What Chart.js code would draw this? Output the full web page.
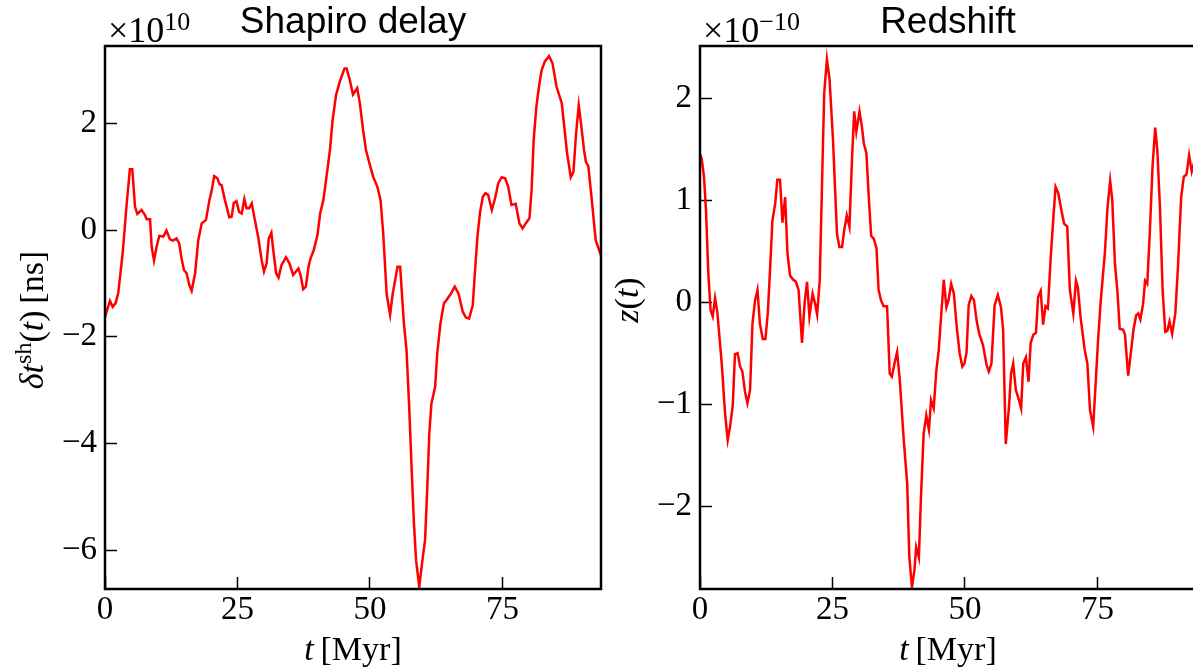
<!DOCTYPE html>
<html>
<head>
<meta charset="utf-8">
<script src="https://cdn.jsdelivr.net/npm/chart.js@4/dist/chart.umd.min.js"></script>
<style>
  html, body { margin: 0; padding: 0; background: #fff; }
  body { width: 1193px; height: 670px; overflow: hidden; position: relative; }
  .panel { position: absolute; top: 0; width: 610px; height: 670px; }
</style>
</head>
<body>
<div class="panel" style="left:0px"><canvas id="c1" width="610" height="670"></canvas></div>
<div class="panel" style="left:595px"><canvas id="c2" width="610" height="670"></canvas></div>
<script>
// ---------------- DATA ----------------
// time axis tick values (Myr)
const xTickValues = [0, 25, 50, 75];
// y tick values
const shapiroYTicks = [-6, -4, -2, 0, 2];
const redshiftYTicks = [-2, -1, 0, 1, 2];

// Shapiro delay, units of 1e10 ns
const shapiroT = [0, 0.94, 1.45, 2.0, 2.5, 3.33, 4.1, 4.7, 5.15, 5.66, 6.1, 6.9, 7.55, 7.86, 8.5, 8.8, 9.25, 9.75, 10.25, 11.0,
  11.6, 12.26, 12.77, 13.5, 14.0, 14.5, 14.9, 15.4, 15.9, 16.35, 17.0, 17.6, 18.25, 19.06, 19.7, 20.1, 20.6, 21.2, 21.6, 22.0,
  22.6, 23.45, 23.9, 24.3, 24.8, 25.3, 25.8, 26.3, 26.7, 27.2, 27.7, 28.1, 28.9, 29.55, 30.0, 30.5, 30.9, 31.4, 31.75, 32.3,
  32.75, 33.3, 34.15, 34.8, 35.5, 36.5, 36.9, 37.4, 37.9, 38.4, 38.8, 39.4, 40.1, 40.6, 41.2, 41.8, 42.45, 42.95, 43.6, 44.3,
  45.2, 45.6, 46.2, 46.8, 47.6, 48.1, 48.7, 49.25, 49.9, 50.6, 51.4, 52.0, 52.5, 53.15, 53.8, 54.3, 55.2, 55.7, 56.4, 56.9,
  57.4, 57.9, 58.3, 58.7, 59.3, 59.9, 60.4, 60.8, 61.2, 61.6, 62.3, 62.7, 63.3, 63.96, 64.45, 65.3, 66.0, 66.7, 67.5, 68.1,
  68.7, 69.4, 69.8, 70.3, 70.8, 71.3, 71.8, 72.3, 73.0, 73.6, 74.2, 74.85, 75.5, 76.1, 76.7, 77.5, 78.2, 78.8, 79.4, 80.1,
  80.5, 80.9, 81.4, 81.9, 82.4, 83.0, 83.8, 84.45, 85.2, 86.2, 86.8, 87.2, 87.9, 88.4, 88.9, 89.4, 89.75, 90.4, 90.75, 91.2,
  91.8, 92.6, 93.6];
const shapiroV = [-1.63, -1.33, -1.44, -1.37, -1.18, -0.44, 0.5, 1.14, 1.14, 0.44, 0.3, 0.375, 0.28, 0.2, 0.2, -0.31, -0.57, -0.31, -0.11, -0.125,
  -0.01, -0.175, -0.2, -0.16, -0.25, -0.56, -0.75, -0.81, -1.03, -1.14, -0.81, -0.19, 0.125, 0.19, 0.56, 0.72, 1.01, 0.97, 0.86, 0.84,
  0.575, 0.24, 0.25, 0.51, 0.54, 0.34, 0.31, 0.58, 0.41, 0.41, 0.5, 0.28, -0.125, -0.56, -0.78, -0.625, -0.16, -0.05, -0.375, -0.81,
  -0.89, -0.66, -0.51, -0.625, -0.84, -0.72, -0.84, -1.11, -1.06, -0.69, -0.53, -0.375, -0.09, 0.31, 0.56, 1.0, 1.5, 2.06, 2.53, 2.78,
  3.03, 3.03, 2.81, 2.54, 2.66, 2.37, 1.875, 1.5, 1.25, 1.0, 0.81, 0.56, -0.06, -1.2, -1.59, -1.19, -0.69, -0.69, -1.75, -2.25,
  -3.31, -4.56, -5.5, -6.19, -6.69, -6.19, -5.81, -4.875, -3.81, -3.25, -2.94, -2.31, -1.75, -1.375, -1.31, -1.19, -1.06, -1.19, -1.53, -1.64,
  -1.66, -1.41, -0.81, -0.1, 0.35, 0.625, 0.69, 0.66, 0.375, 0.59, 0.875, 0.99, 0.97, 0.81, 0.47, 0.49, 0.125, 0.03, 0.125, 0.22,
  0.75, 1.69, 2.31, 2.69, 3.0, 3.16, 3.26, 3.125, 2.69, 2.375, 1.81, 1.44, 0.99, 1.09, 1.81, 2.34, 2.06, 1.5, 1.28, 1.2,
  0.625, -0.19, -0.48];

// Redshift, units of 1e-10
const redshiftT = [0, 0.3, 0.75, 1.13, 1.57, 2.0, 2.4, 2.84, 3.27, 4.1, 4.73, 5.23, 5.67, 6.18, 6.6, 7.1, 7.56, 8.0, 8.5, 8.95,
  9.45, 9.9, 10.4, 10.85, 11.3, 11.85, 12.35, 12.8, 13.2, 13.67, 14.2, 14.6, 15.1, 15.56, 16.07, 16.5, 17.0, 17.6, 18.1, 18.6,
  19.25, 19.75, 20.2, 20.65, 21.25, 21.7, 22.1, 22.6, 23.0, 23.44, 23.95, 24.45, 25.1, 25.5, 25.85, 26.3, 26.8, 27.2, 27.7, 28.2,
  28.7, 29.1, 29.5, 30.1, 30.55, 30.9, 31.4, 31.8, 32.3, 32.8, 33.3, 33.7, 34.15, 34.65, 35.3, 35.8, 36.2, 36.7, 37.2, 37.7,
  38.45, 39.1, 39.5, 40.0, 40.45, 40.8, 41.3, 41.7, 42.2, 42.7, 43.2, 43.6, 44.1, 44.6, 45.05, 45.5, 46.0, 46.5, 46.9, 47.4,
  47.9, 48.5, 49.0, 49.5, 49.9, 50.3, 50.7, 51.2, 51.7, 52.2, 52.7, 53.4, 54.1, 54.5, 55.0, 55.6, 56.2, 56.8, 57.2, 57.7,
  58.3, 58.7, 59.1, 59.6, 60.2, 60.6, 61.0, 61.5, 62.0, 62.4, 62.9, 63.4, 63.8, 64.3, 64.75, 65.2, 65.65, 66.2, 66.7, 67.1,
  67.6, 68.2, 68.7, 69.3, 69.8, 70.45, 70.95, 71.3, 71.8, 72.6, 73.1, 73.6, 74.2, 74.7, 75.1, 75.6, 76.4, 76.9, 77.4, 77.8,
  78.3, 78.8, 79.2, 79.85, 80.2, 80.8, 81.3, 81.8, 82.3, 82.7, 83.1, 83.6, 84.0, 84.4, 84.9, 85.4, 85.9, 86.3, 86.8, 87.3,
  87.8, 88.2, 88.6, 89.1, 89.7, 90.2, 90.8, 91.3, 91.8, 92.3, 92.8, 93.2, 93.6];
const redshiftV = [1.45, 1.41, 1.23, 0.9, 0.28, -0.08, -0.14, 0.04, -0.1, -0.6, -1.09, -1.35, -1.22, -1.01, -0.51, -0.5, -0.63, -0.68, -0.88, -0.99,
  -0.86, -0.21, 0.02, 0.12, -0.21, -0.36, -0.36, -0.1, 0.3, 0.8, 0.97, 1.2, 1.2, 0.78, 1.03, 0.48, 0.26, 0.22, 0.2, 0.12,
  -0.4, 0.0, 0.2, -0.14, 0.085, -0.01, -0.12, 0.22, 1.1, 2.05, 2.38, 2.18, 1.59, 1.1, 0.67, 0.54, 0.54, 0.7, 0.85, 0.74,
  1.42, 1.87, 1.67, 1.87, 1.72, 1.56, 1.46, 1.07, 0.65, 0.62, 0.53, 0.12, 0.02, -0.04, -0.04, -0.7, -0.73, -0.6, -0.49, -0.76,
  -1.35, -1.78, -2.5, -2.79, -2.63, -2.4, -2.5, -1.91, -1.29, -1.11, -1.25, -0.96, -1.04, -0.67, -0.47, -0.14, 0.22, -0.05, 0.02, 0.18,
  0.085, -0.27, -0.5, -0.63, -0.6, -0.49, -0.03, 0.06, 0.02, -0.18, -0.31, -0.42, -0.62, -0.68, -0.6, -0.03, 0.07, -0.05, -0.27, -1.39,
  -1.03, -0.7, -0.6, -0.86, -0.96, -1.04, -0.6, -0.54, -0.78, -0.4, -0.32, -0.3, 0.05, 0.11, -0.22, -0.04, -0.06, 0.45, 0.84, 1.13,
  1.07, 0.9, 0.77, 0.74, 0.12, -0.11, 0.21, 0.15, -0.14, -0.47, -0.6, -1.06, -1.22, -0.76, -0.39, 0.0, 0.48, 0.93, 1.19, 1.0,
  0.38, 0.085, -0.26, -0.27, -0.32, -0.72, -0.5, -0.27, -0.13, -0.11, -0.17, -0.02, 0.21, 0.18, 0.7, 1.33, 1.71, 1.49, 0.93, 0.12,
  -0.29, -0.28, -0.19, -0.31, -0.11, 0.35, 1.03, 1.23, 1.25, 1.44, 1.28, 1.36, 1.3];

// ---------------- RENDERING ----------------
const SERIF = '"Liberation Serif", "DejaVu Serif", serif';
const SANS = '"Liberation Sans", Arial, sans-serif';

function richWidth(ctx, segs) {
  let w = 0;
  for (const s of segs) {
    ctx.font = (s.it ? 'italic ' : '') + s.size + 'px ' + SERIF;
    w += ctx.measureText(s.t).width;
  }
  return w;
}
function drawRich(ctx, segs, x, y, center) {
  if (center) x -= richWidth(ctx, segs) / 2;
  ctx.fillStyle = '#000';
  ctx.textBaseline = 'alphabetic';
  ctx.textAlign = 'left';
  for (const s of segs) {
    ctx.font = (s.it ? 'italic ' : '') + s.size + 'px ' + SERIF;
    ctx.fillText(s.t, x, y + (s.dy || 0));
    x += ctx.measureText(s.t).width;
  }
}

const mathText = {
  id: 'mathText',
  afterDraw(chart, args, o) {
    const {ctx, chartArea: a} = chart;
    ctx.save();
    // frame
    ctx.strokeStyle = '#000';
    ctx.lineWidth = 2.5;
    ctx.strokeRect(a.left, a.top, a.right - a.left, a.bottom - a.top);
    // offset multiplier
    drawRich(ctx, o.offset, a.left + 3, 42, false);
    // x label
    drawRich(ctx, o.xlabel, (a.left + a.right) / 2, 660, true);
    // y label
    ctx.translate(43, o.ylabelY);
    ctx.rotate(-Math.PI / 2);
    drawRich(ctx, o.ylabel, 0, 0, true);
    ctx.restore();
  }
};

const fmt = v => (v < 0 ? '\u2212' + Math.abs(v) : String(v));

function makeChart(id, T, V, yMin, yMax, yTicks, title, textOpts) {
  const pts = T.map((t, i) => ({x: t, y: V[i]}));
  return new Chart(document.getElementById(id), {
    type: 'line',
    data: { datasets: [{ data: pts, borderColor: '#ff0000', borderWidth: 2.5, pointRadius: 0, tension: 0, fill: false }] },
    plugins: [mathText],
    options: {
      responsive: false,
      animation: false,
      events: [],
      layout: { padding: { top: 0, right: 9, bottom: 0, left: 0 } },
      plugins: {
        legend: { display: false },
        tooltip: { enabled: false },
        title: {
          display: true, text: title, fullSize: false, color: '#000',
          font: { family: SANS, size: 37, weight: 'normal', lineHeight: 1 },
          padding: { top: 4, bottom: 5 }
        },
        mathText: textOpts
      },
      scales: {
        x: {
          type: 'linear', min: 0, max: 93.6,
          afterFit: s => { s.height = 81; },
          afterBuildTicks: s => { s.ticks = xTickValues.map(v => ({value: v})); },
          border: { display: false },
          grid: { display: true, drawOnChartArea: false, drawTicks: true, tickLength: -12, tickColor: '#000', tickWidth: 1.5 },
          ticks: { color: '#000', padding: 14, maxRotation: 0, font: { family: SERIF, size: 33 }, callback: fmt }
        },
        y: {
          type: 'linear', min: yMin, max: yMax,
          afterFit: s => { s.width = 105; },
          afterBuildTicks: s => { s.ticks = yTicks.map(v => ({value: v})); },
          border: { display: false },
          grid: { display: true, drawOnChartArea: false, drawTicks: true, tickLength: -12, tickColor: '#000', tickWidth: 1.5 },
          ticks: { color: '#000', padding: 20, font: { family: SERIF, size: 33 }, callback: fmt }
        }
      }
    }
  });
}

const xlabel = [{t: 't', it: true, size: 34}, {t: '\u2009[Myr]', size: 34}];

makeChart('c1', shapiroT, shapiroV, -6.73, 3.45, shapiroYTicks, 'Shapiro delay', {
  offset: [{t: '\u00d710', size: 36}, {t: '10', size: 26, dy: -12}],
  xlabel: xlabel,
  ylabel: [{t: '\u03b4t', it: true, size: 34}, {t: 'sh', size: 24, dy: -12}, {t: '(', size: 34}, {t: 't', it: true, size: 34},
           {t: ')', size: 34}, {t: '\u2009[ns]', size: 34}],
  ylabelY: 320
});

makeChart('c2', redshiftT, redshiftV, -2.81, 2.51, redshiftYTicks, 'Redshift', {
  offset: [{t: '\u00d710', size: 36}, {t: '\u221210', size: 26, dy: -12}],
  xlabel: xlabel,
  ylabel: [{t: 'z', it: true, size: 34}, {t: '(', size: 34}, {t: 't', it: true, size: 34}, {t: ')', size: 34}],
  ylabelY: 300
});
</script>
</body>
</html>
